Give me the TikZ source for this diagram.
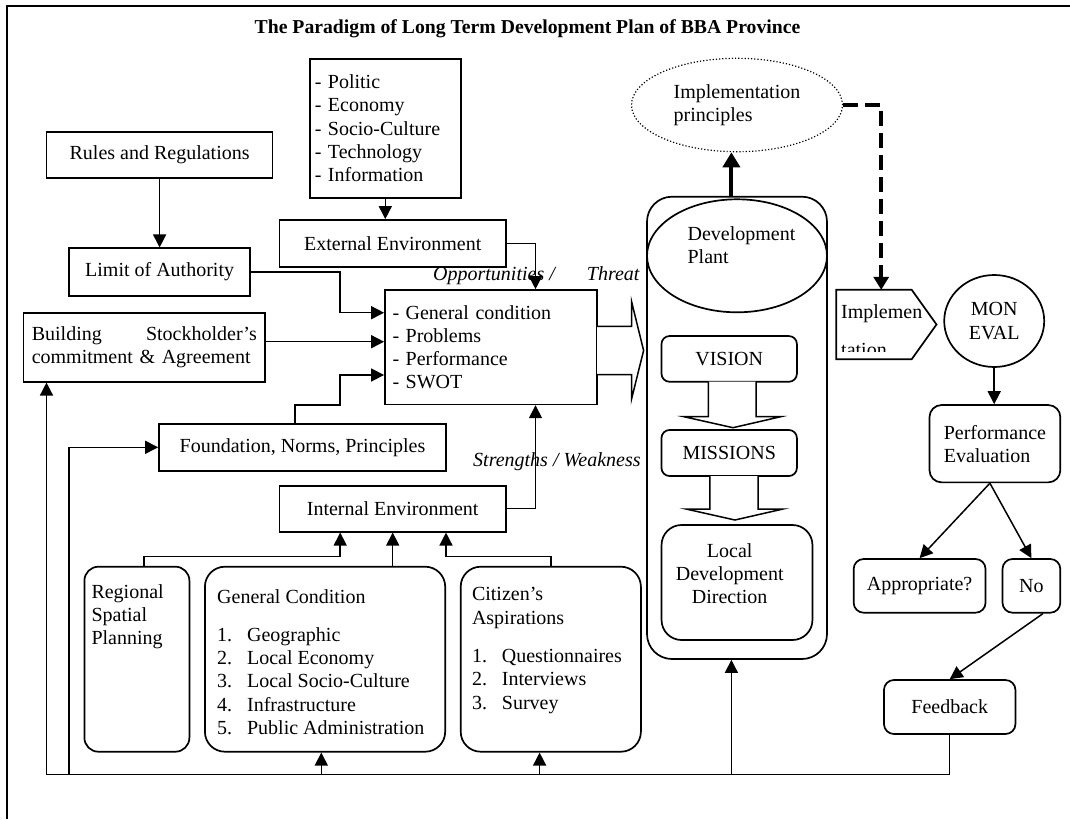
\documentclass[tikz,border=0pt]{standalone}
\usepackage{fontspec}
\setmainfont{Liberation Serif}
\usetikzlibrary{arrows.meta,shapes.geometric,calc}
\newcommand{\bodysize}{\fontsize{20}{23.3}\selectfont}
\newcommand{\dashitem}{\makebox[13pt][l]{-}}
\newcommand{\numitem}[1]{\makebox[29.9pt][l]{#1.}}

\begin{document}
\begin{tikzpicture}[x=1pt,y=-1pt,font=\bodysize]

	\tikzset{sqbox/.style={draw, line width=1.7pt},
		rndbox/.style={sqbox, rounded corners=#1},
		txt/.style={inner sep=0pt, align=left},
		conn/.style={line width=1.5pt, -{Triangle[length=13pt,width=13pt]}},
		blk/.style={line width=1.5pt, fill=white}}

	\useasboundingbox (0,0) rectangle (1070,819);
	\draw[line width=2pt] (6.9,819) -- (6.9,5.7) -- (1070,5.7);

%% Title
	\node[font=\bfseries\fontsize{19.7}{22}\selectfont] (title) at (527.5,28.3) {The Paradigm of Long Term Development Plan of BBA Province};

%% Left part
	\node[sqbox, minimum width=226, minimum height=46.6] (rules) at (159.6,155) {Rules and Regulations};
	\node[sqbox, minimum width=181.4, minimum height=47.4] (limit) at (159.6,272) {Limit of Authority};
	\node[sqbox, align=left, text width=140.7, inner xsep=5pt, minimum height=138.7] (polit) at (385.3,128.4)
		{\dashitem Politic\\\dashitem Economy\\\dashitem Socio-Culture\\\dashitem Technology\\\dashitem Information};
	\node[sqbox, minimum width=226.2, minimum height=46.7] (ext) at (392.7,243.3) {External Environment};
	\node[sqbox, align=left, text width=196.3, inner xsep=7.7pt, minimum height=114.3] (swot) at (490.8,347.2)
		{\dashitem General condition\\\dashitem Problems\\\dashitem Performance\\\dashitem SWOT};
	\node[sqbox, align=left, text width=225, inner xsep=4.8pt, minimum width=241.8, minimum height=69] (build) at (144.3,347.2)
		{\hbox to 225pt{Building\hfill Stockholder's}\\commitment \& Agreement};
	\node[sqbox, minimum width=287, minimum height=46.7] (found) at (302.5,447.3) {Foundation, Norms, Principles};
	\node[sqbox, minimum width=226.2, minimum height=46] (intern) at (392.7,508.7) {Internal Environment};

	\node[txt, anchor=west, font=\bodysize\itshape] (oppthr) at (433,275.3) {Opportunities /\hspace{32pt}Threat};
	\node[txt, anchor=west, font=\bodysize\itshape] (strw) at (473,461.7) {Strengths / Weakness};

%% Bottom boxes
	\node[rndbox=14pt, minimum width=105, minimum height=185] (region) at (136.9,659.2) {};
	\node[txt, anchor=north west] (regiontxt) at (91.3,584) {Regional\\Spatial\\Planning};
	\node[rndbox=20pt, minimum width=240.3, minimum height=185] (gencond) at (325.05,659.2) {};
	\node[txt, anchor=north west] (gencondtxt) at (217,589) {General Condition\\[15pt]\numitem{1}Geographic\\\numitem{2}Local Economy\\\numitem{3}Local Socio-Culture\\\numitem{4}Infrastructure\\\numitem{5}Public Administration};
	\node[rndbox=20pt, minimum width=180.2, minimum height=185] (citizen) at (550.8,659.2) {};
	\node[txt, anchor=north west] (citizentxt) at (471.8,587.3) {Citizen's\\Aspirations\\[15pt]\numitem{1}Questionnaires\\\numitem{2}Interviews\\\numitem{3}Survey};

%% Development plant
	\node[rndbox=25pt, minimum width=180, minimum height=462.3] (devbox) at (737,427.85) {};
	\node[sqbox, ellipse, minimum width=180, minimum height=113] (devell) at (737,255.8) {};
	\node[txt, anchor=north west] (devtxt) at (687.4,226.6) {Development\\Plant};
	\node[draw, dotted, line width=1.2pt, ellipse, inner sep=0pt, align=left, minimum width=211, minimum height=93.4] (implp) at (737,105) {Implementation\\principles};
	\node[rndbox=8pt, minimum width=135.4, minimum height=45.7] (vision) at (729.2,358.9) {VISION};
	\node[rndbox=8pt, minimum width=135.4, minimum height=46] (missions) at (729.2,453) {MISSIONS};
	\node[rndbox=20pt, minimum width=150.9, minimum height=115] (local) at (737,582.5) {};
	\node[txt, align=center, anchor=north] (localtxt) at (729.7,543) {Local\\Development\\Direction};

%% Right part
	\node[minimum width=99.8, minimum height=69, inner sep=0pt] (impl) at (886.4,324.5) {};
	\draw[line width=1.7pt] (impl.north west) -- ($(impl.north east)+(-24.8,0)$) -- (impl.east) -- ($(impl.south east)+(-24.8,0)$) -- (impl.south west) -- cycle;
	\begin{scope}
		\clip (impl.north west) rectangle ($(impl.south east)+(0,-8)$);
		\node[txt, anchor=north west] (impltxt) at (841,304) {Implemen\\[15pt]tation};
	\end{scope}
	\node[sqbox, ellipse, align=center, inner sep=0pt, minimum width=100, minimum height=92] (mon) at (994.2,321) {MON\\EVAL};
	\node[rndbox=12pt, align=left, minimum width=130.8, minimum height=77.3] (perf) at (994.9,443.7) {Performance\\Evaluation};
	\node[rndbox=10pt, minimum width=131.9, minimum height=53.7] (approp) at (919.6,585.85) {Appropriate?};
	\node[rndbox=10pt, minimum width=57.8, minimum height=53.7] (no) at (1031.4,585.85) {No};
	\node[rndbox=10pt, minimum width=131.5, minimum height=54] (feed) at (949.7,707) {Feedback};

%% Bend points
	\coordinate (xo) at (535.5,0);
	\coordinate (k1) at (340.2,312.7);
	\coordinate (k2) at (0,341.7);
	\coordinate (fy) at (295,405);
	\coordinate (fx) at (340.2,375);
	\coordinate (r1) at (340.2,556.7);
	\coordinate (c1) at (446,556.7);
	\coordinate (bl) at (46.5,774.3);
	\coordinate (b2) at (68.9,774.3);
	\coordinate (ga) at (321.3,774.3);
	\coordinate (ca) at (539.6,774.3);
	\coordinate (da) at (731.4,774.3);
	\coordinate (ix) at (881.2,105);
	\coordinate (ta) at (643.6,350.5);
	\coordinate (tv) at (733,427.7);
	\coordinate (tm) at (734.9,520);

%Arrows
	\draw[conn] (rules) -- (limit);
	\draw[conn] (polit.south) -- (polit.south |- ext.north);
	\draw[conn] (ext.east) -| (xo |- swot.north);
	\draw[conn] (limit.east) -| (k1) -- (k1 -| swot.west);
	\draw[conn] (build.east |- k2) -- (k2 -| swot.west);
	\draw[conn] (fy |- found.north) -- (fy) -| (fx) -- (fx -| swot.west);
	\draw[conn] (intern.east) -| (xo |- swot.south);
	\draw[conn] ([xshift=7pt]region.north) |- (r1) -- (r1 |- intern.south);
	\draw[conn] (intern.south |- gencond.north) -- (intern.south);
	\draw[conn] (citizen.north) |- (c1) -- (c1 |- intern.south);

	\draw[conn] (feed.south) |- (bl) -- (bl |- build.south);
	\draw[conn] (b2) |- (found.west);
	\draw[conn] (ga) -- (ga |- gencond.south);
	\draw[conn] (ca) -- (ca |- citizen.south);
	\draw[conn] (da) -- (da |- devbox.south);

	\draw[line width=4pt, -{Triangle[length=15pt,width=17pt]}] (da |- devbox.north) -- (da |- implp.south);
	\draw[line width=3.5pt, dash pattern=on 15pt off 7pt, -{Triangle[length=13pt,width=15pt]}] (implp.east) -- (ix) -- (ix |- impl.north);

	\draw[conn] (mon.south) -- (mon.south |- perf.north);
	\draw[conn] ([xshift=-5pt]perf.south) -- (approp.north);
	\draw[conn] ([xshift=-5pt]perf.south) -- (no.north);
	\draw[conn] ([xshift=11.6pt]no.south) -- (feed.north);

%Block arrows
	\draw[blk] ($(ta)+(-46.6,-24.2)$) -- ++(34.6,0) -- ++(0,-24.6) -- (ta) -- ++(-12,48.3) -- ++(0,-24.1) -- ++(-34.6,0);
	\draw[blk] ($(tv)+(-24.6,-46)$) -- ++(0,35) -- ++(-24.5,0) -- (tv) -- ++(47.7,-11) -- ++(-24.5,0) -- ++(0,-35);
	\draw[blk] ($(tm)+(-25.1,-44)$) -- ++(0,33) -- ++(-23.8,0) -- (tm) -- ++(48.1,-11) -- ++(-25,0) -- ++(0,-33);

\end{tikzpicture}
\end{document}
